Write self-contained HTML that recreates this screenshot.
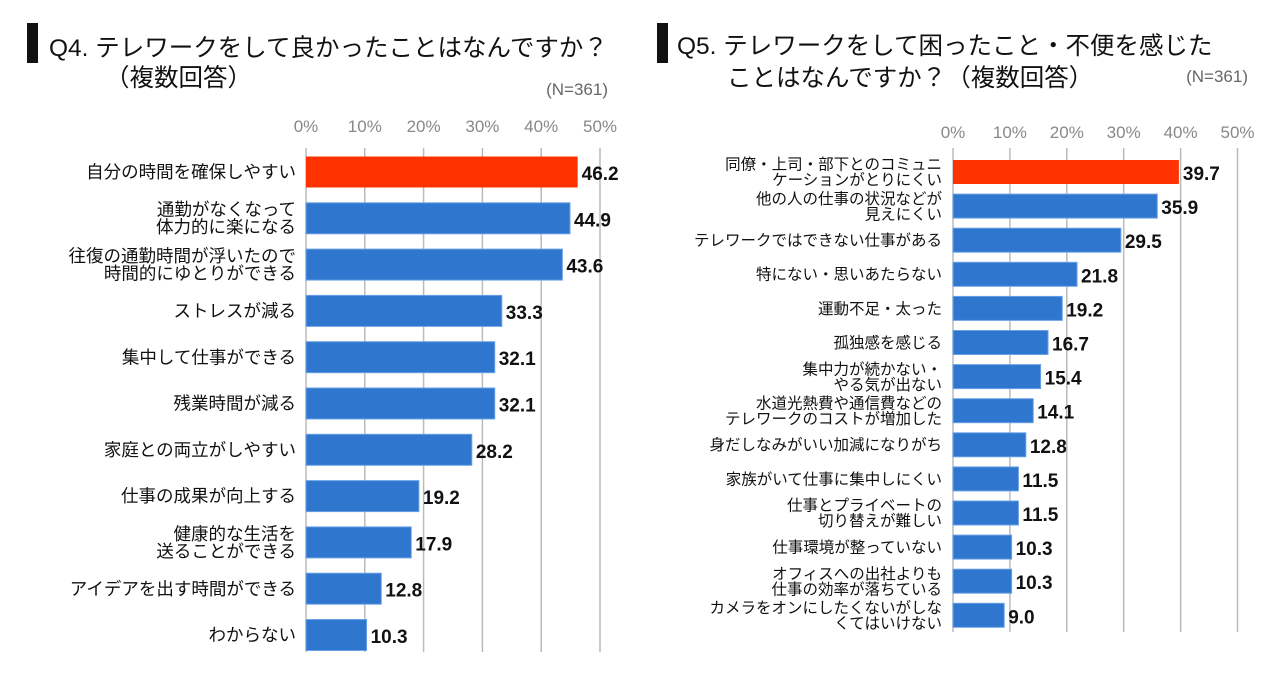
<!DOCTYPE html>
<html><head><meta charset="utf-8"><style>
body{margin:0;width:1280px;height:670px;background:#fff;overflow:hidden;font-family:"Liberation Sans","Noto Sans CJK JP",sans-serif;}
svg text{font-family:"Liberation Sans","Noto Sans CJK JP",sans-serif;}
</style></head><body>
<svg id="chart" width="1280" height="670">
<rect x="27" y="23" width="11" height="40" fill="#111"/>
<text x="49" y="56" font-size="24.5" fill="#111">Q4. テレワークをして良かったことはなんですか？</text>
<text x="105" y="86" font-size="24.5" fill="#111">（複数回答）</text>
<text x="608" y="95" font-size="17" fill="#666" text-anchor="end">(N=361)</text>
<rect x="657" y="23" width="11" height="40" fill="#111"/>
<text x="677" y="54" font-size="24.5" fill="#111">Q5. テレワークをして困ったこと・不便を感じた</text>
<text x="727" y="86" font-size="24.5" fill="#111">ことはなんですか？（複数回答）</text>
<text x="1248" y="82" font-size="17" fill="#666" text-anchor="end">(N=361)</text>
<g id="left"></g><g id="right"></g>
</svg>
<script>
const ticks=[0,10,20,30,40,50];
const leftCats=[["自分の時間を確保しやすい"],["通勤がなくなって","体力的に楽になる"],["往復の通勤時間が浮いたので","時間的にゆとりができる"],["ストレスが減る"],["集中して仕事ができる"],["残業時間が減る"],["家庭との両立がしやすい"],["仕事の成果が向上する"],["健康的な生活を","送ることができる"],["アイデアを出す時間ができる"],["わからない"]];
const leftVals=[46.2,44.9,43.6,33.3,32.1,32.1,28.2,19.2,17.9,12.8,10.3];
const rightCats=[["同僚・上司・部下とのコミュニ","ケーションがとりにくい"],["他の人の仕事の状況などが","見えにくい"],["テレワークではできない仕事がある"],["特にない・思いあたらない"],["運動不足・太った"],["孤独感を感じる"],["集中力が続かない・","やる気が出ない"],["水道光熱費や通信費などの","テレワークのコストが増加した"],["身だしなみがいい加減になりがち"],["家族がいて仕事に集中しにくい"],["仕事とプライベートの","切り替えが難しい"],["仕事環境が整っていない"],["オフィスへの出社よりも","仕事の効率が落ちている"],["カメラをオンにしたくないがしな","くてはいけない"]];
const rightVals=[39.7,35.9,29.5,21.8,19.2,16.7,15.4,14.1,12.8,11.5,11.5,10.3,10.3,9.0];
const NS="http://www.w3.org/2000/svg";
function mk(g,tag,attrs,txt){const e=document.createElementNS(NS,tag);for(const k in attrs)e.setAttribute(k,attrs[k]);if(txt!=null)e.textContent=txt;g.appendChild(e);return e;}
function draw(gid,cats,vals,o){
 const g=document.getElementById(gid);
 const x=v=>o.x0+v*o.ppu;
 const y=i=>o.y0+i*o.step;
 ticks.forEach(t=>{
  const l=mk(g,'line',{x1:x(t),x2:x(t),y1:o.gTop,y2:o.gBot,stroke:'#bbb','stroke-width':1.5});
  
  
  const tx=mk(g,'text',{x:x(t),y:o.tickY,'text-anchor':'middle','font-size':17,fill:'#888'},t+'%');
  
  
 });
 vals.forEach((v,i)=>{
  const cy=y(i);
  const r=mk(g,'rect',{x:x(0),y:cy-o.bh/2,width:x(v)-x(0),height:o.bh,fill:i===0?'#ff3300':'#2f76cf',stroke:i===0?'none':'#6aa2e6','stroke-width':1});
  
  
  const vt=mk(g,'text',{x:x(v)+4,y:cy+8,'font-size':19,'font-weight':'bold',fill:'#111'},v.toFixed(1));
  
  
  const lines=cats[i];
  const lh=o.fs*1.0;
  lines.forEach((s,j)=>{
   const ly=cy+o.fs*0.35+(j-(lines.length-1)/2)*lh;
   const t=mk(g,'text',{x:o.lx,y:ly,'text-anchor':'end','font-size':o.fs,fill:'#111'},s);
   
   
  });
 });
}
draw('left',leftCats,leftVals,{x0:306,ppu:5.88,y0:172,step:46.3,bh:31,gTop:148,gBot:652,tickY:132,lx:296,fs:17.5});
draw('right',rightCats,rightVals,{x0:953,ppu:5.69,y0:172,step:34.1,bh:24,gTop:148,gBot:632,tickY:138,lx:942,fs:15.5});
</script>
</body></html>
